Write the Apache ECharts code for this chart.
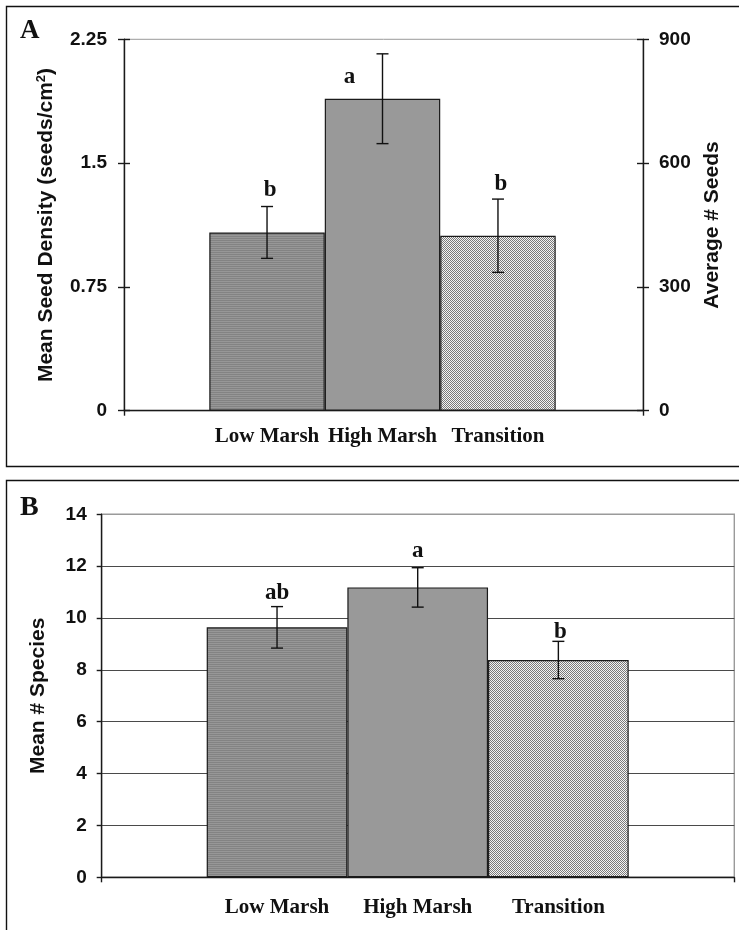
<!DOCTYPE html>
<html>
<head>
<meta charset="utf-8">
<title>Seed bank by marsh zone</title>
<script src="https://cdn.jsdelivr.net/npm/echarts@6/dist/echarts.min.js"></script>
<style>
  html, body { margin: 0; padding: 0; background: #fff; }
  #chart { width: 739px; height: 930px; }
</style>
</head>
<body>
<div id="chart"></div>
<script>
// ---- data ----
const categories = ['Low Marsh', 'High Marsh', 'Transition'];

// Panel A: mean seed density (seeds/cm2) with standard error
const densityMean = [1.08, 1.89, 1.06];
const densityErr = [0.157, 0.272, 0.222];
const densityLetters = ['b', 'a', 'b'];
const densityTicks = [0, 0.75, 1.5, 2.25];
const seedTicks = [0, 300, 600, 900];

// Panel B: mean number of species with standard error
const speciesMean = [9.64, 11.18, 8.38];
const speciesErr = [0.8, 0.76, 0.72];
const speciesLetters = ['ab', 'a', 'b'];
const speciesTicks = [0, 2, 4, 6, 8, 10, 12, 14];

// ---- fill patterns ----
function makePattern(w, h, cells) {
  const c = document.createElement('canvas');
  c.width = w; c.height = h;
  const ctx = c.getContext('2d');
  cells.forEach(function (row, y) {
    row.forEach(function (col, x) {
      ctx.fillStyle = col;
      ctx.fillRect(x, y, 1, 1);
    });
  });
  return { image: c, repeat: 'repeat' };
}
const lowFill = makePattern(1, 2, [['#838383'], ['#979797']]);
const highFill = '#999999';
const transFill = makePattern(2, 2, [['#7a7a7a', '#f4f4f4'], ['#f4f4f4', '#7a7a7a']]);
const barFills = [lowFill, highFill, transFill];

// ---- layout ----
const SANS = '"Liberation Sans", Arial, sans-serif';
const SERIF = '"Liberation Serif", "Times New Roman", serif';

const A = { left: 124, top: 39.3, width: 519, height: 371.4, barLeft: 209.3, barWidth: 346.4 };
const B = { left: 101.7, top: 514.3, width: 632.6, height: 363, barLeft: 206.7, barWidth: 422 };

// letter nudges (px) relative to the top of each error bar
const nudgeA = [[3, -16], [-33, 23], [3, -15]];
const nudgeB = [[0, -14], [0, -17], [2, -9]];

function tickRange(ticks) {
  return { min: ticks[0], max: ticks[ticks.length - 1], interval: ticks[1] - ticks[0] };
}

function barData(means) {
  return means.map(function (v, i) {
    return { value: v, itemStyle: { color: barFills[i] } };
  });
}

function errData(means, errs) {
  return means.map(function (v, i) { return [i, v, errs[i]]; });
}

function errorRenderer(letters, nudges) {
  return function (params, api) {
    const i = api.value(0), mean = api.value(1), err = api.value(2);
    const top = api.coord([i, mean + err]);
    const bot = api.coord([i, mean - err]);
    const cap = 6;
    const k = params.dataIndex;
    const lineStyle = { stroke: '#111', lineWidth: 1.4 };
    return {
      type: 'group',
      children: [
        { type: 'line', shape: { x1: top[0], y1: top[1], x2: bot[0], y2: bot[1] }, style: lineStyle },
        { type: 'line', shape: { x1: top[0] - cap, y1: top[1], x2: top[0] + cap, y2: top[1] }, style: lineStyle },
        { type: 'line', shape: { x1: bot[0] - cap, y1: bot[1], x2: bot[0] + cap, y2: bot[1] }, style: lineStyle },
        {
          type: 'text',
          x: top[0] + nudges[k][0],
          y: top[1] + nudges[k][1],
          style: {
            text: letters[k],
            font: 'bold 23px ' + SERIF,
            fill: '#111',
            align: 'center',
            verticalAlign: 'middle'
          }
        }
      ]
    };
  };
}

const dRange = tickRange(densityTicks);
const sRange = tickRange(seedTicks);
const spRange = tickRange(speciesTicks);

const tickLabel = { fontFamily: SANS, fontWeight: 'bold', fontSize: 19, color: '#111' };
const catLabel = { fontFamily: SERIF, fontWeight: 'bold', fontSize: 21, color: '#111', interval: 0, hideOverlap: false };
const axisTitle = { fontFamily: SANS, fontWeight: 'bold', fontSize: 21, color: '#111' };
const darkLine = { color: '#1a1a1a', width: 1.4 };

const option = {
  backgroundColor: '#ffffff',
  animation: false,
  grid: [
    { left: A.left, top: A.top, width: A.width, height: A.height, show: true, borderColor: '#9a9a9a', borderWidth: 1, backgroundColor: 'transparent' },
    { left: A.barLeft, top: A.top, width: A.barWidth, height: A.height },
    { left: B.left, top: B.top, width: B.width, height: B.height, show: true, borderColor: '#9a9a9a', borderWidth: 1.4, backgroundColor: 'transparent' },
    { left: B.barLeft, top: B.top, width: B.barWidth, height: B.height }
  ],
  xAxis: [
    { gridIndex: 0, type: 'value', min: 0, max: 1, interval: 1,
      axisLine: { lineStyle: darkLine }, axisTick: { length: 5, lineStyle: darkLine },
      axisLabel: { show: false }, splitLine: { show: false } },
    { gridIndex: 1, type: 'category', data: categories,
      axisLine: { show: false }, axisTick: { show: false },
      axisLabel: Object.assign({ margin: 15 }, catLabel) },
    { gridIndex: 2, type: 'value', min: 0, max: 1, interval: 1,
      axisLine: { lineStyle: darkLine }, axisTick: { length: 5, lineStyle: darkLine },
      axisLabel: { show: false }, splitLine: { show: false } },
    { gridIndex: 3, type: 'category', data: categories,
      axisLine: { show: false }, axisTick: { show: false },
      axisLabel: Object.assign({ margin: 20 }, catLabel) }
  ],
  yAxis: [
    // 0: left density axis (outside ticks, labels, title)
    { gridIndex: 0, type: 'value', position: 'left', min: dRange.min, max: dRange.max, interval: dRange.interval,
      axisLine: { show: true, lineStyle: darkLine },
      axisTick: { show: true, length: 6, lineStyle: darkLine },
      axisLabel: Object.assign({ margin: 17 }, tickLabel),
      splitLine: { show: false },
      name: 'Mean Seed Density (seeds/cm{sup|2})', nameLocation: 'middle', nameGap: 66,
      nameTextStyle: Object.assign({ rich: { sup: { fontFamily: SANS, fontWeight: 'bold', fontSize: 13, color: '#111', verticalAlign: 'top', padding: [0, 0, 10, 0] } } }, axisTitle) },
    // 1: inner half of the crossing ticks
    { gridIndex: 0, type: 'value', position: 'left', min: dRange.min, max: dRange.max, interval: dRange.interval,
      axisLine: { show: false }, axisTick: { show: true, inside: true, length: 6, lineStyle: darkLine },
      axisLabel: { show: false }, splitLine: { show: false } },
    // 2: right seed-count axis
    { gridIndex: 0, type: 'value', position: 'right', min: sRange.min, max: sRange.max, interval: sRange.interval,
      axisLine: { show: true, lineStyle: darkLine },
      axisTick: { show: true, length: 6, lineStyle: darkLine },
      axisLabel: Object.assign({ margin: 16 }, tickLabel),
      splitLine: { show: false },
      name: 'Average # Seeds', nameLocation: 'middle', nameGap: 59, nameTextStyle: axisTitle },
    { gridIndex: 0, type: 'value', position: 'right', min: sRange.min, max: sRange.max, interval: sRange.interval,
      axisLine: { show: false }, axisTick: { show: true, inside: true, length: 6, lineStyle: darkLine },
      axisLabel: { show: false }, splitLine: { show: false } },
    // 4: value axis for bars of panel A
    { gridIndex: 1, type: 'value', min: dRange.min, max: dRange.max, show: false },
    // 5: species axis
    { gridIndex: 2, type: 'value', position: 'left', min: spRange.min, max: spRange.max, interval: spRange.interval,
      axisLine: { show: true, lineStyle: darkLine },
      axisTick: { show: true, length: 5, lineStyle: darkLine },
      axisLabel: Object.assign({ margin: 15 }, tickLabel),
      splitLine: { show: true, showMaxLine: false, showMinLine: false, lineStyle: { color: '#4a4a4a', width: 1 } },
      name: 'Mean # Species', nameLocation: 'middle', nameGap: 53, nameTextStyle: axisTitle },
    // 6: value axis for bars of panel B
    { gridIndex: 3, type: 'value', min: spRange.min, max: spRange.max, show: false }
  ],
  series: [
    { type: 'bar', xAxisIndex: 1, yAxisIndex: 4, data: barData(densityMean),
      barCategoryGap: '0%', itemStyle: { borderColor: '#1a1a1a', borderWidth: 1.2 }, z: 3 },
    { type: 'custom', xAxisIndex: 1, yAxisIndex: 4, data: errData(densityMean, densityErr),
      renderItem: errorRenderer(densityLetters, nudgeA), z: 5 },
    { type: 'bar', xAxisIndex: 3, yAxisIndex: 6, data: barData(speciesMean),
      barCategoryGap: '0%', itemStyle: { borderColor: '#1a1a1a', borderWidth: 1.2 }, z: 3 },
    { type: 'custom', xAxisIndex: 3, yAxisIndex: 6, data: errData(speciesMean, speciesErr),
      renderItem: errorRenderer(speciesLetters, nudgeB), z: 5 }
  ],
  graphic: [
    { type: 'rect', shape: { x: 6.5, y: 6.5, width: 760, height: 460 }, style: { fill: 'none', stroke: '#111', lineWidth: 1.4 }, z: 0, silent: true },
    { type: 'rect', shape: { x: 6.5, y: 480.5, width: 760, height: 500 }, style: { fill: 'none', stroke: '#111', lineWidth: 1.4 }, z: 0, silent: true },
    { type: 'text', left: 20, top: 18, style: { text: 'A', font: 'bold 27px ' + SERIF, fill: '#111' } },
    { type: 'text', left: 20, top: 494, style: { text: 'B', font: 'bold 28px ' + SERIF, fill: '#111' } }
  ]
};

const chart = echarts.init(document.getElementById('chart'), null, { renderer: 'canvas' });
chart.setOption(option);
</script>
</body>
</html>
